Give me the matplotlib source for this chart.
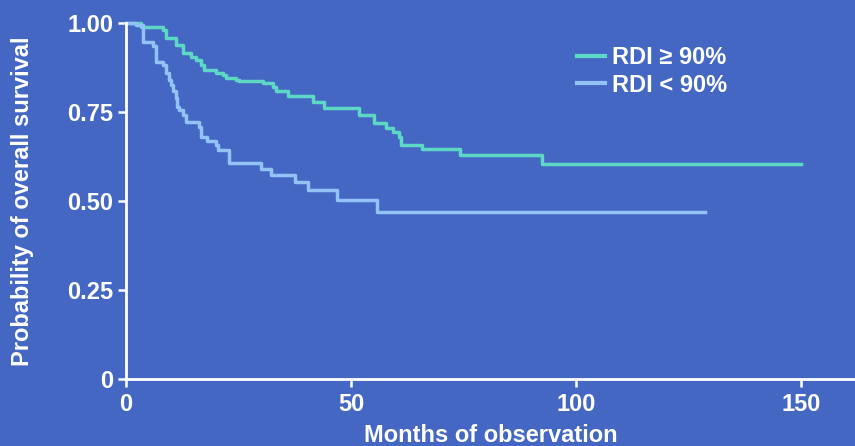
"""Kaplan-Meier style overall survival by RDI group."""

import matplotlib
matplotlib.use("Agg")
import matplotlib.pyplot as plt

# step curve data (months, survival probability)
months_hi = [0, 3.3, 8.2, 8.9, 11.1, 12.7, 14.4, 15.6, 16.7, 17.3, 20.0, 21.6, 22.2,
             24.4, 25.1, 30.4, 32.7, 33.3, 36.0, 41.6, 44.0, 51.8, 55.1, 57.8, 59.3,
             60.7, 61.1, 65.8, 74.2, 92.4, 150.0]
surv_hi = [1.0, 0.99, 0.98, 0.958, 0.938, 0.916, 0.904, 0.896, 0.882, 0.868, 0.86, 0.854,
           0.845, 0.84, 0.837, 0.831, 0.82, 0.809, 0.796, 0.778, 0.761, 0.742, 0.719,
           0.705, 0.694, 0.68, 0.657, 0.646, 0.629, 0.604, 0.604]

months_lo = [0, 2.2, 3.8, 6.0, 6.7, 8.2, 8.9, 9.6, 10.0, 10.4, 11.1, 11.3, 11.8, 12.7,
             13.3, 16.2, 16.7, 18.0, 20.0, 20.4, 22.9, 30.0, 32.2, 37.6, 40.4, 46.9,
             55.8, 128.7]
surv_lo = [1.0, 0.994, 0.947, 0.935, 0.89, 0.882, 0.86, 0.84, 0.826, 0.81, 0.79, 0.764,
           0.756, 0.742, 0.722, 0.708, 0.68, 0.668, 0.657, 0.643, 0.607, 0.59, 0.573,
           0.553, 0.531, 0.502, 0.469, 0.469]

labels = ["RDI \u2265 90%", "RDI < 90%"]
x_ticks = [0, 50, 100, 150]
y_ticks = [0, 0.25, 0.5, 0.75, 1.0]
y_tick_labels = ["0", "0.25", "0.50", "0.75", "1.00"]

BG = "#4467C4"
GREEN = "#5CD8C4"
LIGHT = "#92C2F6"
FS = 17

plt.rcParams["font.family"] = ["Liberation Sans", "DejaVu Sans"]
plt.rcParams["font.weight"] = "bold"

fig = plt.figure(figsize=(8.55, 4.46), dpi=100, facecolor=BG)
ax = fig.add_axes([126 / 855, 67 / 446, 1 - 126 / 855, (379 - 23) / 446])
ax.set_facecolor(BG)

ax.step(months_hi, surv_hi, where="post", color=GREEN, lw=2.5, label=labels[0], clip_on=False)
ax.step(months_lo, surv_lo, where="post", color=LIGHT, lw=2.5, label=labels[1], clip_on=False)

ax.set_xlim(0, 162)
ax.set_ylim(0, 1.0)
ax.set_xticks(x_ticks)
ax.set_yticks(y_ticks)
ax.set_yticklabels(y_tick_labels)

for side in ["top", "right"]:
    ax.spines[side].set_visible(False)
for side in ["left", "bottom"]:
    ax.spines[side].set_color("white")
    ax.spines[side].set_linewidth(2)

ax.tick_params(axis="both", colors="white", width=1.8, length=6, labelsize=FS)
ax.tick_params(axis="x", pad=4)
ax.tick_params(axis="y", pad=3)
for t in ax.get_xticklabels() + ax.get_yticklabels():
    t.set_fontweight("bold")

ax.set_xlabel("Months of observation", color="white", fontsize=FS, fontweight="bold", labelpad=6)
ax.set_ylabel("Probability of overall survival", color="white", fontsize=FS,
              fontweight="bold", labelpad=24)

leg = ax.legend(loc="upper left", bbox_to_anchor=(0.59, 0.995), frameon=False,
                fontsize=FS, handlelength=1.15, handletextpad=0.3, labelspacing=0.2)
for line in leg.get_lines():
    line.set_linewidth(3)
for t in leg.get_texts():
    t.set_color("white")
    t.set_fontweight("bold")

fig.savefig("out.png", dpi=100, facecolor=BG)
